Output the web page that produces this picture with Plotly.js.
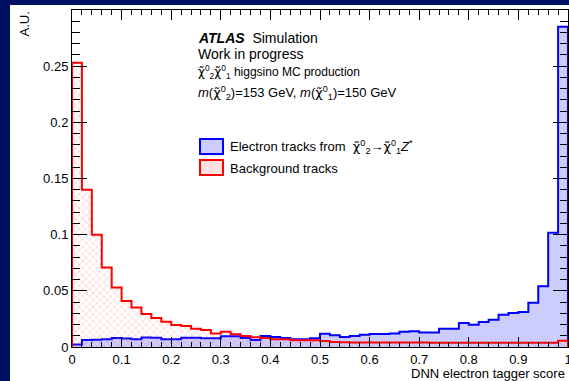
<!DOCTYPE html>
<html>
<head>
<meta charset="utf-8">
<script src="https://cdn.plot.ly/plotly-3.0.1.min.js"></script>
<style>
  html, body { margin:0; padding:0; width:569px; height:381px; overflow:hidden; background:#000f63; }
  #plot { position:absolute; left:10px; top:5px; width:559px; height:376px; background:#ffffff; }
</style>
</head>
<body>
<div id="plot"></div>
<script>
// ---- data ----
const binEdges = [0.00,0.02,0.04,0.06,0.08,0.10,0.12,0.14,0.16,0.18,
                  0.20,0.22,0.24,0.26,0.28,0.30,0.32,0.34,0.36,0.38,
                  0.40,0.42,0.44,0.46,0.48,0.50,0.52,0.54,0.56,0.58,
                  0.60,0.62,0.64,0.66,0.68,0.70,0.72,0.74,0.76,0.78,
                  0.80,0.82,0.84,0.86,0.88,0.90,0.92,0.94,0.96,0.98,1.00];

const signalValues = [0.0022,0.0062,0.0065,0.0070,0.0080,0.0075,0.0070,0.0085,0.0082,0.0070,
                      0.0070,0.0082,0.0082,0.0078,0.0078,0.0095,0.0095,0.0080,0.0062,0.0098,
                      0.0088,0.0080,0.0070,0.0068,0.0078,0.0118,0.0104,0.0088,0.0098,0.0108,
                      0.0116,0.0116,0.0120,0.0136,0.0140,0.0128,0.0128,0.0163,0.0163,0.0213,
                      0.0198,0.0222,0.0243,0.0287,0.0302,0.0311,0.0394,0.0540,0.1016,0.2850];

const backgroundValues = [0.2530,0.1400,0.1000,0.0708,0.0530,0.0410,0.0352,0.0293,0.0258,0.0225,
                          0.0195,0.0186,0.0163,0.0151,0.0121,0.0136,0.0113,0.0099,0.0086,0.0080,
                          0.0068,0.0068,0.0060,0.0060,0.0060,0.0053,0.0045,0.0043,0.0040,0.0040,
                          0.0040,0.0040,0.0039,0.0039,0.0039,0.0039,0.0038,0.0038,0.0038,0.0038,
                          0.0038,0.0038,0.0038,0.0038,0.0038,0.0038,0.0038,0.0038,0.0038,0.0055];

const xTickVals = [0,0.1,0.2,0.3,0.4,0.5,0.6,0.7,0.8,0.9,1];
const xTickText = ['0','0.1','0.2','0.3','0.4','0.5','0.6','0.7','0.8','0.9','1'];
const yTickVals = [0,0.05,0.1,0.15,0.2,0.25];
const yTickText = ['0','0.05','0.1','0.15','0.2','0.25'];

const CHI = '<span style="font-family:DejaVu Sans">χ̃</span>';
const signalLabel = 'Electron tracks from \u00a0' + CHI + '<sup>0</sup><sub>2</sub>→' + CHI + '<sup>0</sup><sub>1</sub><i>Z</i><sup>*</sup>';
const backgroundLabel = 'Background tracks';
const xTitle = 'DNN electron tagger score';
const yTitle = 'A.U.';

// ---- build step histograms ----
function stepXY(vals) {
  const x = [binEdges[0]], y = [0];
  for (let i = 0; i < vals.length; i++) { x.push(binEdges[i]); y.push(vals[i]); }
  x.push(binEdges[vals.length]); y.push(vals[vals.length - 1]);
  x.push(binEdges[vals.length]); y.push(0);
  return {x, y};
}
const sig = stepXY(signalValues);
const bkg = stepXY(backgroundValues);

const FONT = 'Liberation Sans, Arial, Helvetica, sans-serif';

const traces = [
  { x: sig.x, y: sig.y, type: 'scatter', mode: 'lines',
    line: { shape: 'hv', color: '#0000ff', width: 2 },
    fill: 'tozeroy', fillcolor: 'rgb(204,204,255)', showlegend: false, hoverinfo: 'skip' },
  { x: bkg.x, y: bkg.y, type: 'scatter', mode: 'lines',
    line: { shape: 'hv', color: '#ff0000', width: 2 },
    fill: 'tozeroy', fillcolor: 'rgba(0,0,0,0)',
    fillpattern: { shape: 'x', fgcolor: 'rgba(255,100,100,0.45)', bgcolor: 'rgba(0,0,0,0)', size: 5, solidity: 0.2 },
    showlegend: false, hoverinfo: 'skip' }
];

// page-pixel -> paper helpers (plot area: x 72..568, y 10..347)
const px = X => (X - 72) / 496;
const py = Y => (347 - Y) / 337;

const annotations = [
  { text: '<b><i>ATLAS</i></b>\u00a0\u00a0Simulation', x: px(196), y: py(38), xanchor: 'left', yanchor: 'middle', font: { size: 14 } },
  { text: 'Work in progress', x: px(196), y: py(54), xanchor: 'left', yanchor: 'middle', font: { size: 14 } },
  { text: CHI + '<sup>0</sup><sub>2</sub>' + CHI + '<sup>0</sup><sub>1</sub> higgsino MC production', x: px(196), y: py(72), xanchor: 'left', yanchor: 'middle', font: { size: 12 } },
  { text: '<i>m</i>(' + CHI + '<sup>0</sup><sub>2</sub>)=153 GeV, <i>m</i>(' + CHI + '<sup>0</sup><sub>1</sub>)=150 GeV', x: px(196), y: py(93), xanchor: 'left', yanchor: 'middle', font: { size: 13 } },
  { text: signalLabel, x: px(228), y: py(147), xanchor: 'left', yanchor: 'middle', font: { size: 13 } },
  { text: backgroundLabel, x: px(228), y: py(168), xanchor: 'left', yanchor: 'middle', font: { size: 13 } },
  { text: yTitle, x: px(24), y: py(10), xanchor: 'center', yanchor: 'top', textangle: -90, font: { size: 13 } },
  { text: xTitle, x: px(567), y: py(373), xanchor: 'right', yanchor: 'middle', font: { size: 13 } }
].map(a => Object.assign({ xref: 'paper', yref: 'paper', showarrow: false }, a,
        { font: Object.assign({ family: FONT, color: '#000' }, a.font) }));

const shapes = [
  { type: 'rect', xref: 'paper', yref: 'paper', x0: px(200), x1: px(223), y0: py(154), y1: py(139),
    line: { color: '#0000ff', width: 2 }, fillcolor: 'rgb(204,204,255)' },
  { type: 'rect', xref: 'paper', yref: 'paper', x0: px(200), x1: px(223), y0: py(175), y1: py(160),
    line: { color: '#ff0000', width: 2 }, fillcolor: 'rgb(255,225,225)' }
];

const layout = {
  width: 559, height: 376,
  margin: { l: 62, r: 1, t: 5, b: 34, pad: 0 },
  paper_bgcolor: '#ffffff', plot_bgcolor: '#ffffff',
  font: { family: FONT, size: 13, color: '#000' },
  showlegend: false,
  xaxis: {
    range: [0, 1], tickvals: xTickVals, ticktext: xTickText, ticklabeloverflow: 'allow',
    ticks: 'inside', ticklen: 10, tickwidth: 1, tickcolor: '#000',
    minor: { dtick: 0.02, ticks: 'inside', ticklen: 5, tickwidth: 1, tickcolor: '#000', showgrid: false },
    showline: true, linecolor: '#000', linewidth: 1, mirror: 'ticks',
    showgrid: false, zeroline: false, tickfont: { size: 13, family: FONT }
  },
  yaxis: {
    range: [0, 0.3], tickvals: yTickVals, ticktext: yTickText,
    ticks: 'inside', ticklen: 15, tickwidth: 1, tickcolor: '#000',
    minor: { dtick: 0.01, ticks: 'inside', ticklen: 8, tickwidth: 1, tickcolor: '#000', showgrid: false },
    showline: true, linecolor: '#000', linewidth: 1, mirror: 'ticks',
    showgrid: false, zeroline: false, tickfont: { size: 13, family: FONT }
  },
  annotations: annotations,
  shapes: shapes
};

Plotly.newPlot('plot', traces, layout, { displayModeBar: false, staticPlot: true });
</script>
</body>
</html>
